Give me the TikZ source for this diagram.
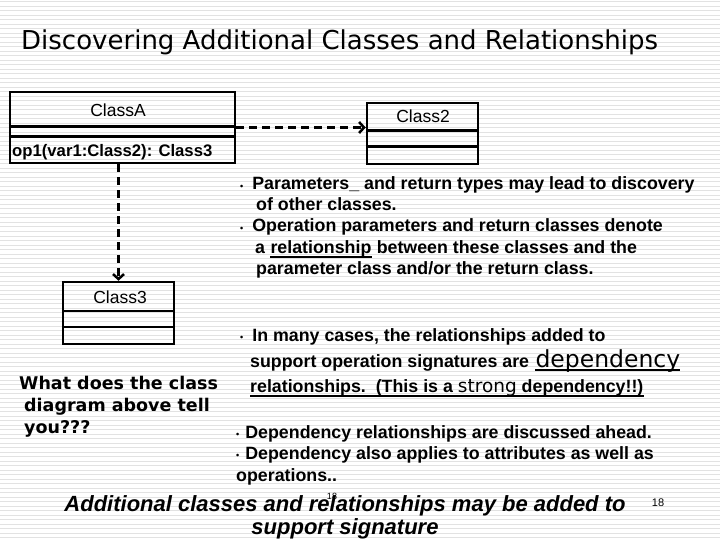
\documentclass[tikz,border=0pt]{standalone}
\usepackage{fontspec}
\setmainfont{Liberation Sans}
\newfontfamily\tahoma{DejaVu Sans}
\usetikzlibrary{arrows.meta, positioning, calc}
\definecolor{stripecolor}{RGB}{226,226,226}
\newcommand{\dotbul}{{\fontsize{9}{9}\selectfont\raisebox{1pt}{•}}}

\begin{document}
\begin{tikzpicture}[x=1pt, y=-1pt,
    classbox/.style={draw, line width=2.5pt, inner sep=0pt},
    classline/.style={line width=2.5pt},
    classname/.style={font=\fontsize{17.5}{18}\selectfont, anchor=base, inner sep=0pt},
    depline/.style={line width=2.5pt, dash pattern=on 8pt off 5pt, -{Straight Barb[length=5pt,width=11pt]}},
    bodytext/.style={anchor=base west, inner sep=0pt, font=\fontsize{17.8}{20}\selectfont\bfseries},
    asktext/.style={bodytext, font=\tahoma\bfseries\fontsize{17.5}{20}\selectfont},
    ulrule/.style={fill=black}]
    \useasboundingbox (0,0) rectangle (720,540);
    % Fond rayé
    \foreach \y in {2,6.5,...,540}
        \draw[stripecolor, line width=1pt] (0,\y) -- (720,\y);

    % Titre
    \node[font=\tahoma\fontsize{26}{28}\selectfont, anchor=base west, inner sep=0pt] (title) at (21,50) {Discovering Additional Classes and Relationships};

    % === CLASSES ===
    % ClassA
    \node[classbox, minimum width=225pt, minimum height=71pt] (classA) at (122.5,127.5) {};
    \draw[classline] ([yshift=-36pt]classA.north west) -- ([yshift=-36pt]classA.north east);
    \draw[classline] ([yshift=-46pt]classA.north west) -- ([yshift=-46pt]classA.north east);
    \node[classname] (nameA) at (118,117) {ClassA};
    \node[bodytext, font=\fontsize{16.7}{18}\selectfont\bfseries] (opA) at (12,157) {op1(var1:Class2): Class3};

    % Class2
    \node[classbox, minimum width=111pt, minimum height=61pt] (class2) at (422.5,133.5) {};
    \draw[classline] ([yshift=-29pt]class2.north west) -- ([yshift=-29pt]class2.north east);
    \draw[classline] ([yshift=-45pt]class2.north west) -- ([yshift=-45pt]class2.north east);
    \node[classname] (name2) at (423,123) {Class2};

    % Class3
    \node[classbox, minimum width=111pt, minimum height=62pt] (class3) at (118.5,313) {};
    \draw[classline] ([yshift=-30pt]class3.north west) -- ([yshift=-30pt]class3.north east);
    \draw[classline] ([yshift=-46pt]class3.north west) -- ([yshift=-46pt]class3.north east);
    \node[classname] (name3) at (120,303) {Class3};

    % Dépendances
    \draw[depline] (classA.east) -- (classA.east -| class2.west);
    \draw[depline] (class3.north |- classA.south) -- (class3.north);

    % === TEXTE ===
    \node[bodytext] (p1) at (240,190) {\dotbul\hspace{9pt}Parameters\_ and return types may lead to discovery};
    \node[bodytext] (p2) at (256,211) {of other classes.};
    \node[bodytext] (p3) at (240,232) {\dotbul\hspace{9pt}Operation parameters and return classes denote};
    \node[bodytext] (p4a) at (255,253) {a};
    \node[bodytext] (p4b) at ([xshift=5pt]p4a.base east) {relationship};
    \node[bodytext] (p4c) at ([xshift=5pt]p4b.base east) {between these classes and the};
    \fill[ulrule] ([yshift=-2.6pt]p4b.base west) rectangle ([yshift=-4.6pt]p4b.base east);
    \node[bodytext] (p5) at (256,274) {parameter class and/or the return class.};

    \node[bodytext] (q1) at (240,341) {\dotbul\hspace{9pt}In many cases, the relationships added to};
    \node[bodytext] (q2) at (250,367) {support operation signatures are};
    \node[bodytext, font=\tahoma\fontsize{23.5}{26}\selectfont] (dep) at ([xshift=6pt]q2.base east) {dependency};
    \fill[ulrule] ([yshift=-1.6pt]dep.base west) rectangle ([yshift=-3.6pt]dep.base east);
    \node[bodytext] (q3) at (250,392) {relationships.\ \ (This is a {\tahoma\mdseries\fontsize{18.5}{20}\selectfont strong} dependency!!)};
    \fill[ulrule] ([yshift=-2.6pt]q3.base west) rectangle ([yshift=-4.6pt]q3.base east);

    \node[bodytext] (r1) at (236,438) {\dotbul\hspace{6pt}Dependency relationships are discussed ahead.};
    \node[bodytext] (r2) at (236,459) {\dotbul\hspace{6pt}Dependency also applies to attributes as well as};
    \node[bodytext] (r3) at (236,481) {operations..};

    % Question
    \node[asktext] (w1) at (19,389) {What does the class};
    \node[asktext] (w2) at (24,411) {diagram above tell};
    \node[asktext] (w3) at (24,433) {you???};

    % Conclusion
    \node[font=\fontsize{22}{26}\selectfont\bfseries\itshape, anchor=base, inner sep=0pt] (c1) at (345,511) {Additional classes and relationships may be added to};
    \node[font=\fontsize{22}{26}\selectfont\bfseries\itshape, anchor=base, inner sep=0pt] (c2) at (345,534) {support signature};
    \node[font=\fontsize{9}{10}\selectfont, anchor=base, inner sep=0pt] (ghost) at (332,499) {18};
    \node[font=\fontsize{11}{12}\selectfont, anchor=base, inner sep=0pt] (page) at (658,506) {18};
\end{tikzpicture}
\end{document}
